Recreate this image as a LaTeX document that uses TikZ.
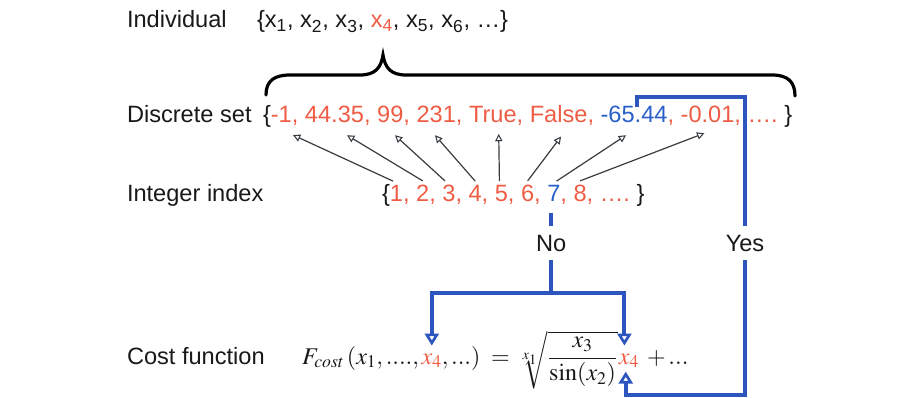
\documentclass[tikz,border=0pt]{standalone}
\usepackage{mathptmx}
\usepackage[no-math]{fontspec}
\setmainfont{Liberation Sans}
\usetikzlibrary{arrows.meta}
\definecolor{ink}{RGB}{25,25,25}
\definecolor{redt}{RGB}{238,92,68}
\definecolor{bluet}{RGB}{40,95,200}
\definecolor{bline}{RGB}{45,85,190}
\definecolor{agray}{RGB}{55,60,65}
\newcommand\chn[4]{\node[#2,anchor=base west] (#1) at (#4.base east) {#3};}
\tikzset{
  txt/.style={font=\fontsize{17.7}{20}\selectfont, inner sep=0pt, outer sep=0pt, text=ink},
  rd/.style={txt, text=redt},
  bu/.style={txt, text=bluet},
  fm/.style={font=\fontsize{18}{20}\selectfont, inner sep=0pt, outer sep=0pt, text=ink},
  fr/.style={fm, text=redt},
  ar/.style={draw=agray, line width=0.9pt, -{Triangle[open, length=5.5pt, width=5.5pt, line width=0.8pt]}},
  bl/.style={draw=bline, line width=3pt},
  barr/.style={bl, -{Triangle[open, length=9pt, width=10.5pt, line width=2pt]}},
  brc/.style={draw=black, line width=2.4pt, line cap=round}
}
\begin{document}
\begin{tikzpicture}[x=0.75pt, y=-0.75pt]
\useasboundingbox (0,0) rectangle (909,398);
% left labels
\node[txt, anchor=base west] (lind) at (127,28) {Individual};
\node[txt, anchor=base west] (ldis) at (127,123) {Discrete set};
\node[txt, anchor=base west] (lint) at (127,202) {Integer index};
\node[txt, anchor=base west] (lcost) at (127,364) {Cost function};
% individual
\node[txt, anchor=base west] (iset) at (257,28) {\{x\textsubscript{1}, x\textsubscript{2}, x\textsubscript{3}, \textcolor{redt}{x\textsubscript{4}}, x\textsubscript{5}, x\textsubscript{6}, …\}};
% brace
\draw[brc] (266,95) .. controls (266,81) and (274,75) .. (290,75) -- (360,75)
  .. controls (375,75) and (381,68) .. (383,55)
  .. controls (385,68) and (391,75) .. (406,75) -- (772,75)
  .. controls (788,75) and (795,82) .. (795,96);
% discrete set
\node[txt, anchor=base west] (dl) at (263,123) {\{};
\chn{d1}{rd}{-1}{dl}
\chn{c1}{rd}{,\kern.278em}{d1}
\chn{d2}{rd}{44.35}{c1}
\chn{c2}{rd}{,\kern.278em}{d2}
\chn{d3}{rd}{99}{c2}
\chn{c3}{rd}{,\kern.278em}{d3}
\chn{d4}{rd}{231}{c3}
\chn{c4}{rd}{,\kern.278em}{d4}
\chn{d5}{rd}{True}{c4}
\chn{c5}{rd}{,\kern.278em}{d5}
\chn{d6}{rd}{False}{c5}
\chn{c6}{rd}{,\kern.278em}{d6}
\chn{d7}{bu}{-65.44}{c6}
\chn{c7}{rd}{,\kern.278em}{d7}
\chn{d8}{rd}{-0.01}{c7}
\chn{c8}{rd}{, ….}{d8}
\chn{dr}{txt}{\kern.278em\}}{c8}
% integer index
\node[txt, anchor=base west] (il) at (382,202) {\{};
\chn{i1}{rd}{1}{il}
\chn{e1}{rd}{,\kern.278em}{i1}
\chn{i2}{rd}{2}{e1}
\chn{e2}{rd}{,\kern.278em}{i2}
\chn{i3}{rd}{3}{e2}
\chn{e3}{rd}{,\kern.278em}{i3}
\chn{i4}{rd}{4}{e3}
\chn{e4}{rd}{,\kern.278em}{i4}
\chn{i5}{rd}{5}{e4}
\chn{e5}{rd}{,\kern.278em}{i5}
\chn{i6}{rd}{6}{e5}
\chn{e6}{rd}{,\kern.278em}{i6}
\chn{i7}{bu}{7}{e6}
\chn{e7}{rd}{,\kern.278em}{i7}
\chn{i8}{rd}{8}{e7}
\chn{e8}{rd}{, ….}{i8}
\chn{ir}{txt}{\kern.278em\}}{e8}
% index arrows (tail on integer, tip under the set element)
\draw[ar] ([xshift=-2.6pt,yshift=3.5pt]i1.north) -- ([xshift=8.7pt,yshift=-9pt]d1.south);
\draw[ar] ([yshift=3.5pt]i2.north) -- ([xshift=9.4pt,yshift=-9pt]d2.south);
\draw[ar] ([xshift=-3pt,yshift=3.5pt]i3.north) -- ([xshift=3.5pt,yshift=-9pt]d3.south);
\draw[ar] ([yshift=3.5pt]i4.north) -- ([xshift=-0.9pt,yshift=-9pt]d4.south);
\draw[ar] ([xshift=-1.5pt,yshift=3.5pt]i5.north) -- ([xshift=4.4pt,yshift=-8pt]d5.south);
\draw[ar] ([yshift=3.5pt]i6.north) -- ([xshift=1.8pt,yshift=-10pt]d6.south);
\draw[ar] ([xshift=2pt,yshift=3.5pt]i7.north) -- ([xshift=-6pt,yshift=-9pt]d7.south);
\draw[ar] ([yshift=3.5pt]i8.north) -- ([xshift=-2.4pt,yshift=-7.5pt]d8.south);
% formula
\node[fm, anchor=base west] (fpre) at (302,364) {$F_{cost}\,(x_1, {.}{.}{.}{.},\,$};
\chn{fx4}{fr}{$x_4$}{fpre}
\chn{fpost}{fm}{$,{.}{.}{.})\;=$}{fx4}
\node[fm, anchor=base west] (froot) at (516,364) {$\sqrt[x_1]{\displaystyle\frac{x_3}{\sin(x_2)}}$};
\chn{rx4}{fr}{\kern1pt$x_4$}{froot}
\chn{fplus}{fm}{\kern6pt$+\,{.}{.}{.}$}{rx4}
% yes / no
\coordinate (rowyn) at (0,243);
\coordinate (hrow) at (0,293);
\coordinate (ytop) at (0,97);
\coordinate (ybot) at (0,395);
\node[txt, minimum height=26pt] (no) at ([xshift=-2pt]i7 |- rowyn) {No};
\node[txt, minimum height=26pt] (yes) at (745,243) {Yes};
\draw[bl] ([xshift=-2pt,yshift=-8pt]i7.south) -- (no.north);
\draw[bl] (no.south) -- (no.south |- hrow) coordinate (nj);
\draw[barr] (nj) -| ([yshift=6pt]fx4.north);
\draw[barr] (nj) -| ([xshift=-3pt,yshift=6pt]rx4.north);
\draw[bl] ([xshift=2pt]d7.north) -- ([xshift=2pt]d7.north |- ytop) -| (yes.north);
\draw[barr] (yes.south) -- (yes.south |- ybot) -| ([xshift=-2pt,yshift=-3pt]rx4.south);
\end{tikzpicture}
\end{document}
